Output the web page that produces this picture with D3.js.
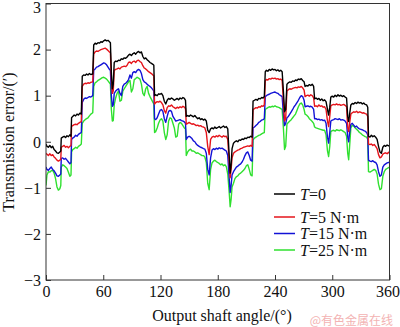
<!DOCTYPE html>
<html><head><meta charset="utf-8">
<script src="https://cdn.jsdelivr.net/npm/d3@7"></script>
<style>
html,body{margin:0;padding:0;background:#fff;}
svg{display:block;font-family:"Liberation Serif","Times New Roman",serif;}
</style></head>
<body><svg id="c" width="400" height="327"></svg>
<script>
// Output shaft angle (deg)
const angles = [
0,1,2.5,4,5.5,7,8.5,10,11.5,13,14.5,15.5,
16,17.5,19,20.5,22,23.5,25,26.2,
26.8,28,29.5,31,32.5,34,35.5,37,
38,39.5,41,42.5,44,45.5,47,49,
50,51.5,53,54.5,56,57.5,59,60.5,62,63.5,65,66.5,67.5,
68.5,69.5,70.5,71.5,
73,74.5,76,77.5,79,80.5,82,83.5,85,86.5,88,89.5,91,92.5,94,95.5,97,98.5,100,101.5,103,104.5,106,107.5,109,110.5,112,113,
113.8,115,116.5,118,119.5,121,122.5,124,125.5,127,128.5,130,131.5,133,134.5,136,137.5,139,140.5,142,143.5,145,146.2,
147,148.5,150,151.5,153,154.5,156,157.5,159,160.5,162,163.5,165,166.5,168,
169.5,171,172.5,
174,175.5,177,178.5,180,181.5,183,184.5,186,187.5,189,190.5,
192,193,194,195,
196.5,198,199.5,201,202.5,204,205.5,207,208.5,210,211.5,213,214.5,216,
217,218.5,220,221.5,223,224.5,226,227.5,228.8,
229.8,231,232.5,234,235.5,237,238.5,240,241.5,243,244.5,246,247.5,
248.8,250,251.2,252.5,
254,255.5,257,258.5,260,261.5,263,264.5,266,267.5,269,270.5,
271.5,273,274.5,276,277.5,279,280.5,
281.5,283,284.5,286,287.5,289,290.5,292,293.5,
295,296.2,297.4,
298.5,300,301.5,303,304.5,306,307.5,309,310.5,312,313.5,315,
316.2,317.2,318.2,
319.5,321,322.5,324,325.5,327,328.5,330,331.5,333,334.5,336,337.2,
338,339.5,341,342.5,344,345.5,347,
348.5,350,351.5,353,
354.5,356,357.5,359,360
];
// T = 0
const t0 = [
-0.05,-0.1,-0.12,-0.08,-0.13,-0.1,-0.17,-0.2,-0.24,-0.25,-0.22,-0.2,
0.08,0.1,0.12,0.09,0.13,0.11,0.15,0.12,
0.52,0.55,0.58,0.56,0.6,0.58,0.62,0.6,
1.42,1.45,1.44,1.47,1.45,1.48,1.46,1.47,
2.1,2.14,2.12,2.15,2.14,2.17,2.16,2.19,2.21,2.19,2.2,2.17,2.15,
1.5,1.15,1.25,1.72,
1.75,1.74,1.77,1.76,1.8,1.79,1.82,1.81,1.84,1.88,1.9,1.87,1.91,1.93,1.9,1.94,1.96,1.93,1.95,1.85,1.8,1.82,1.78,1.75,1.72,1.7,1.68,1.66,
1.0,1.02,1.0,1.04,1.03,1.05,1.0,0.88,0.82,0.9,0.94,0.92,0.95,0.93,0.9,0.92,0.94,0.91,0.95,0.93,0.96,0.94,0.9,
0.55,0.57,0.55,0.58,0.56,0.54,0.57,0.53,0.5,0.52,0.48,0.5,0.47,0.49,0.45,
0.25,0.2,0.28,
0.3,0.28,0.32,0.29,0.31,0.33,0.3,0.32,0.34,0.31,0.33,0.28,
-0.3,-0.68,-0.5,-0.15,
-0.03,0.0,0.02,0.0,0.04,0.03,0.06,0.05,0.08,0.07,0.1,0.09,0.12,0.1,
0.88,0.9,0.92,0.9,0.94,0.93,0.96,0.95,0.98,
1.52,1.55,1.53,1.57,1.55,1.58,1.56,1.57,1.54,1.56,1.53,1.55,1.52,
1.1,0.65,0.7,1.25,
1.28,1.3,1.29,1.32,1.31,1.34,1.33,1.36,1.35,1.37,1.33,1.3,
1.2,1.22,1.21,1.24,1.22,1.25,1.2,
0.93,0.95,0.92,0.94,0.9,0.93,0.89,0.91,0.87,
0.7,0.58,0.75,
0.97,0.99,0.97,1.01,0.98,1.02,0.99,1.01,0.98,1.0,0.97,0.95,
0.55,0.44,0.6,
0.8,0.83,0.82,0.85,0.83,0.86,0.84,0.85,0.82,0.84,0.81,0.8,0.75,
0.12,0.1,0.14,0.11,0.13,0.1,0.05,
-0.1,-0.22,-0.25,-0.12,
-0.08,-0.1,-0.07,-0.09,-0.08
];
// T = 5 N·m
const t5 = [
-0.25,-0.27,-0.3,-0.26,-0.3,-0.28,-0.33,-0.36,-0.4,-0.42,-0.4,-0.38,
-0.12,-0.1,-0.08,-0.12,-0.1,-0.13,-0.1,-0.08,
0.33,0.35,0.37,0.38,0.37,0.4,0.42,0.44,
1.2,1.25,1.27,1.26,1.28,1.27,1.29,1.3,
1.9,1.95,1.97,1.96,1.98,2.0,2.01,2.02,2.03,2.01,1.98,1.95,1.93,
1.35,1.05,1.1,1.55,
1.57,1.58,1.6,1.58,1.62,1.63,1.64,1.63,1.66,1.72,1.73,1.7,1.74,1.75,1.72,1.76,1.77,1.74,1.72,1.65,1.6,1.58,1.55,1.52,1.5,1.48,1.45,1.43,
0.82,0.85,0.87,0.86,0.88,0.85,0.8,0.68,0.62,0.74,0.78,0.77,0.8,0.76,0.74,0.72,0.75,0.73,0.76,0.74,0.77,0.75,0.72,
0.38,0.4,0.42,0.4,0.38,0.39,0.37,0.35,0.36,0.34,0.35,0.33,0.32,0.3,0.2,
-0.1,-0.28,0.05,
0.1,0.12,0.1,0.13,0.11,0.14,0.12,0.1,0.13,0.11,0.12,0.05,
-0.45,-0.78,-0.6,-0.35,
-0.25,-0.22,-0.2,-0.18,-0.17,-0.15,-0.14,-0.12,-0.11,-0.1,-0.09,-0.1,-0.08,-0.1,
0.7,0.72,0.74,0.73,0.76,0.75,0.78,0.77,0.8,
1.32,1.35,1.34,1.37,1.36,1.38,1.37,1.38,1.36,1.37,1.35,1.36,1.33,
0.9,0.45,0.5,1.1,
1.13,1.15,1.14,1.16,1.17,1.18,1.17,1.19,1.18,1.2,1.17,1.12,
0.98,1.0,1.01,0.99,1.02,1.0,0.95,
0.77,0.78,0.76,0.8,0.77,0.78,0.75,0.76,0.7,
0.45,0.33,0.55,
0.78,0.8,0.81,0.8,0.82,0.8,0.81,0.79,0.8,0.81,0.79,0.76,
0.3,0.22,0.4,
0.6,0.63,0.65,0.64,0.66,0.63,0.65,0.64,0.62,0.63,0.61,0.6,0.55,
-0.05,-0.06,-0.05,-0.08,-0.06,-0.1,-0.15,
-0.28,-0.35,-0.33,-0.27,
-0.25,-0.24,-0.26,-0.23,-0.25
];
// T = 15 N·m
const t15 = [
-0.55,-0.6,-0.62,-0.58,-0.55,-0.6,-0.63,-0.68,-0.74,-0.75,-0.72,-0.7,
-0.36,-0.35,-0.38,-0.36,-0.4,-0.44,-0.48,-0.45,
0.05,0.08,0.1,0.14,0.12,0.16,0.18,0.2,
0.85,0.92,0.95,0.94,0.96,0.98,0.97,1.0,
1.55,1.58,1.62,1.63,1.65,1.67,1.69,1.71,1.7,1.67,1.62,1.57,1.55,
1.0,0.77,0.8,1.05,
1.1,1.13,1.15,1.05,1.0,1.2,1.25,1.27,1.3,1.35,1.45,1.38,1.5,1.52,1.5,1.55,1.57,1.55,1.48,1.35,1.3,1.28,1.25,1.22,1.2,1.17,1.13,1.1,
0.5,0.48,0.52,0.6,0.68,0.7,0.66,0.5,0.42,0.55,0.66,0.68,0.66,0.55,0.5,0.45,0.46,0.47,0.48,0.46,0.45,0.43,0.4,
0.05,0.1,0.12,0.1,0.07,0.02,0.0,-0.05,-0.08,-0.1,-0.12,-0.13,-0.15,-0.16,-0.25,
-0.6,-0.72,-0.35,
-0.18,-0.15,-0.17,-0.14,-0.16,-0.13,-0.15,-0.14,-0.16,-0.18,-0.2,-0.3,
-0.8,-1.1,-0.95,-0.72,
-0.65,-0.6,-0.55,-0.53,-0.5,-0.48,-0.44,-0.38,-0.3,-0.24,-0.22,-0.3,-0.4,-0.42,
0.3,0.32,0.35,0.38,0.42,0.44,0.47,0.48,0.5,
0.98,1.0,1.02,1.03,1.05,1.06,1.07,1.08,1.06,1.05,1.02,1.0,0.98,
0.6,0.35,0.4,0.52,
0.55,0.6,0.65,0.7,0.76,0.8,0.85,0.9,0.96,1.0,0.98,0.9,
0.76,0.77,0.78,0.76,0.77,0.75,0.7,
0.5,0.5,0.48,0.49,0.47,0.48,0.46,0.47,0.4,
0.1,-0.03,0.2,
0.45,0.47,0.48,0.5,0.49,0.48,0.5,0.47,0.48,0.47,0.45,0.4,
0.1,0.0,0.2,
0.38,0.4,0.36,0.32,0.34,0.3,0.28,0.27,0.26,0.24,0.23,0.2,0.15,
-0.4,-0.42,-0.43,-0.41,-0.44,-0.45,-0.5,
-0.65,-0.75,-0.72,-0.55,
-0.5,-0.48,-0.46,-0.45,-0.44
];
// T = 25 N·m
const t25 = [
-0.95,-0.72,-0.65,-0.66,-0.63,-0.62,-0.68,-0.8,-0.98,-1.05,-1.02,-0.95,
-0.55,-0.5,-0.52,-0.55,-0.58,-0.66,-0.75,-0.72,
-0.22,-0.17,-0.15,-0.12,-0.14,-0.1,-0.08,-0.05,
0.4,0.45,0.48,0.5,0.52,0.56,0.6,0.63,
1.2,1.28,1.3,1.33,1.35,1.37,1.39,1.4,1.38,1.36,1.32,1.28,1.25,
0.7,0.45,0.46,0.8,
0.95,1.05,1.1,0.88,0.9,1.1,1.15,1.2,1.25,1.3,1.33,1.08,1.15,1.35,1.37,1.4,1.38,1.36,1.25,1.05,1.0,1.15,1.2,1.05,0.98,0.92,0.86,0.82,
0.2,0.22,0.3,0.4,0.47,0.5,0.45,0.2,0.05,0.15,0.45,0.52,0.5,0.4,0.3,0.1,0.12,0.38,0.42,0.4,0.35,0.3,0.28,
-0.3,-0.22,-0.18,-0.16,-0.2,-0.2,-0.22,-0.25,-0.24,-0.26,-0.28,-0.3,-0.3,-0.33,-0.45,
-0.9,-1.04,-0.6,
-0.46,-0.42,-0.4,-0.43,-0.45,-0.47,-0.5,-0.48,-0.52,-0.5,-0.54,-0.7,
-1.1,-1.41,-1.25,-0.98,
-0.9,-0.8,-0.76,-0.74,-0.7,-0.68,-0.65,-0.62,-0.58,-0.52,-0.5,-0.6,-0.72,-0.74,
0.04,0.08,0.1,0.12,0.14,0.15,0.17,0.19,0.2,
0.7,0.72,0.74,0.76,0.75,0.77,0.76,0.78,0.76,0.75,0.74,0.72,0.7,
0.3,-0.17,-0.1,0.38,
0.42,0.45,0.48,0.52,0.56,0.6,0.68,0.76,0.82,0.84,0.8,0.7,
0.6,0.58,0.55,0.5,0.47,0.44,0.4,
0.32,0.3,0.29,0.28,0.27,0.26,0.25,0.25,0.15,
-0.2,-0.32,-0.1,
0.22,0.24,0.25,0.23,0.26,0.25,0.24,0.26,0.24,0.22,0.2,0.12,
-0.25,-0.39,-0.1,
0.3,0.36,0.34,0.3,0.27,0.24,0.2,0.18,0.15,0.13,0.11,0.1,0.05,
-0.65,-0.66,-0.64,-0.62,-0.6,-0.62,-0.7,
-0.92,-1.04,-1.02,-0.75,
-0.65,-0.6,-0.58,-0.56,-0.55
];
const seriesNames = ["0", "5 N·m", "15 N·m", "25 N·m"];
const seriesColors = ["#000000", "#e5141b", "#1212d6", "#2fe02f"];
const seriesValues = [t0, t5, t15, t25];
const xTicks = [0, 60, 120, 180, 240, 300, 360];
const yTicks = [-3, -2, -1, 0, 1, 2, 3];
const xTitle = "Output shaft angle/(°)";
const yTitle = "Transmission error/(′)";
const watermark = "@有色金属在线";

const FONT = '"Liberation Serif","Times New Roman",serif';
const svg = d3.select("#c");
const L = 46, R = 389.5, T = 3.5, B = 280;
const x = d3.scaleLinear().domain([0, 360]).range([L, R]);
const y = d3.scaleLinear().domain([-3, 3]).range([B, T]);

// lines
const line = d3.line().x(d => x(d[0])).y(d => y(d[1]));
svg.append("clipPath").attr("id", "clip").append("rect")
  .attr("x", L).attr("y", T).attr("width", R - L).attr("height", B - T);
const g = svg.append("g").attr("clip-path", "url(#clip)");
for (let s = seriesValues.length - 1; s >= 0; s--) {
  const vals = seriesValues[s];
  const n = Math.min(vals.length, angles.length);
  const pts = d3.range(n).map(i => [angles[i], vals[i]]);
  g.append("path").attr("d", line(pts)).attr("fill", "none")
    .attr("stroke", seriesColors[s]).attr("stroke-width", 1.4)
    .attr("stroke-linejoin", "round");
}

// axes
const fmt = d3.format("d");
const xAxis = d3.axisBottom(x).tickValues(xTicks).tickFormat(fmt).tickSizeInner(-5).tickSizeOuter(0).tickPadding(6);
const yAxis = d3.axisLeft(y).tickValues(yTicks).tickFormat(fmt).tickSizeInner(-5).tickSizeOuter(0).tickPadding(5);
const gx = svg.append("g").attr("transform", `translate(0,${B})`).call(xAxis);
const gy = svg.append("g").attr("transform", `translate(${L},0)`).call(yAxis);
[gx, gy].forEach(a => {
  a.attr("font-family", FONT).attr("font-size", 16);
  a.select(".domain").remove();
  a.selectAll("line").attr("stroke", "#333");
  a.selectAll("text").attr("fill", "#111").attr("font-family", FONT);
});
gy.selectAll("text").attr("dy", d => d === 3 ? "0.58em" : "0.33em");
gx.selectAll("text").attr("dx", d => d === 360 ? -2 : 0);

// frame
svg.append("rect").attr("x", L).attr("y", T).attr("width", R - L).attr("height", B - T)
  .attr("fill", "none").attr("stroke", "#333").attr("stroke-width", 1);

// titles
svg.append("text").attr("x", 222).attr("y", 321).attr("text-anchor", "middle")
  .attr("font-size", 16).attr("fill", "#111").text(xTitle);
svg.append("text").attr("transform", "translate(14,142) rotate(-90)")
  .attr("text-anchor", "middle").attr("font-size", 16).attr("fill", "#111").text(yTitle);

// legend
const legY = [194, 217, 233.5, 250];
seriesNames.forEach((nm, i) => {
  svg.append("line").attr("x1", 274).attr("x2", 295).attr("y1", legY[i]).attr("y2", legY[i])
    .attr("stroke", seriesColors[i]).attr("stroke-width", 1.5);
  const t = svg.append("text").attr("x", 300).attr("y", legY[i] + 5.5)
    .attr("font-size", 16).attr("fill", "#111");
  t.append("tspan").attr("font-style", "italic").text("T");
  t.append("tspan").text("=" + nm);
});

// watermark
svg.append("text").attr("x", 393).attr("y", 325).attr("text-anchor", "end")
  .attr("font-family", '"Noto Sans CJK SC",sans-serif').attr("font-size", 12)
  .attr("fill", "#f3b3b3").text(watermark);
</script></body></html>
